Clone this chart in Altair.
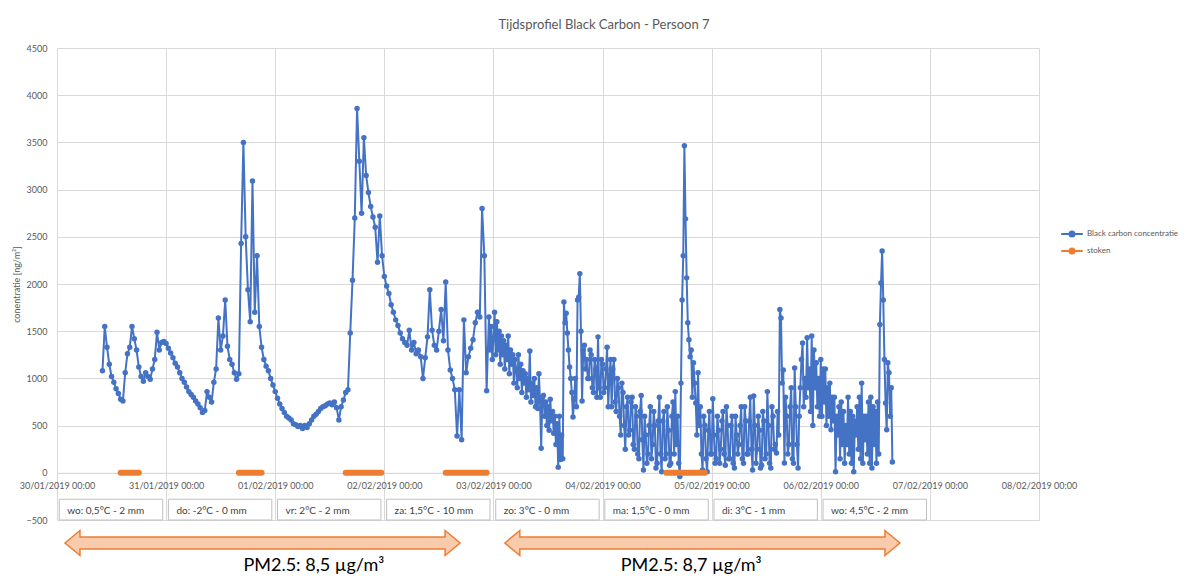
import altair as alt
import pandas as pd

# ---------------- data ----------------
TITLE = "Tijdsprofiel Black Carbon - Persoon 7"
Y_TITLE = "conentratie [ng/m³]"
SERIES = ["Black carbon concentratie", "stoken"]
COLORS = ["#4472C4", "#ED7D31"]

# black carbon, part A: every 30 minutes from 30/01/2019 10:00
bc_a_start = "2019-01-30 10:00"
bc_a_values = [
    1080, 1550, 1330, 1150, 1020, 960, 890, 840, 780, 760, 1060, 1260,
    1330, 1550, 1420, 1300, 1120, 1020, 970, 1060, 1020, 990, 1100, 1200,
    1490, 1300, 1380, 1390, 1370, 1320, 1270, 1220, 1160, 1120, 1060, 1000,
    960, 910, 860, 830, 800, 760, 730, 690, 640, 660, 860, 800,
    750, 960, 1100, 1640, 1300, 1450, 1830, 1340, 1200, 1150, 1060, 990,
    1050, 2430, 3500, 2500, 1940, 1600, 3090, 1700, 2300, 1550, 1330, 1200,
    1130, 1080, 1000, 930, 860, 790, 730, 680, 640, 600, 580, 560,
    520, 510, 490, 500, 470, 500, 480, 520, 560, 600, 620, 650,
    680, 700, 710, 730, 740, 720, 750, 690, 560, 700, 770, 850,
    880, 1480, 2040, 2700, 3860, 3300, 2750, 3550, 3150, 2970, 2820, 2710,
    2600, 2230, 2720, 2300, 2080, 1980, 1900, 1780, 1700, 1620, 1560, 1480,
    1420, 1380, 1350, 1510, 1300, 1380, 1260, 1300, 1230, 1000, 1220, 1440,
    1940, 1510, 1350, 1300, 1500, 1730, 1400, 2020, 1300, 1090, 1000, 880,
    390, 880, 350, 1620, 1060, 1230, 1320, 1410, 1590, 1700, 1650, 2800,
    2300, 870,
]
# black carbon, part B: every 15 minutes from 02/02/2019 23:00
bc_b_start = "2019-02-02 23:00"
bc_b_values = [
    1650, 1300, 1550, 1200, 1420, 1700, 1250, 1600,
    1300, 1500, 1150, 1450, 1250, 1400, 1100, 1350,
    1200, 1450, 1050, 1300, 1150, 1250, 950, 1200,
    1100, 900, 1250, 1000, 1150, 850, 1080, 950,
    1050, 800, 1000, 880, 1290, 750, 950, 820,
    1000, 700, 900, 680, 1050, 750, 260, 800,
    820, 600, 750, 500, 700, 450, 780, 550,
    650, 420, 600, 300, 520, 60, 600, 140,
    400, 150, 1810, 1590, 1690, 1480, 1300, 1120,
    1000, 850, 590, 780, 1000, 700, 1830, 1860,
    2110, 1500, 760, 1300, 1350, 1100, 1200, 1000,
    1000, 1300, 1250, 900, 850, 1200, 1100, 800,
    1440, 900, 800, 1200, 1150, 850, 900, 1100,
    1330, 700, 1000, 1200, 700, 1100, 1200, 750,
    650, 1000, 900, 600, 400, 950, 850, 500,
    250, 700, 800, 400, 450, 750, 800, 300,
    250, 700, 600, 200, 150, 650, 820, 350,
    30, 600, 400, 100, 200, 500, 700, 150,
    300, 650, 500, 50, 100, 550, 800, 200,
    10, 550, 650, 150, 200, 700, 450, 80,
    100, 600, 750, 200, 860, 300, 600, 100,
    -40, 950, 1830, 2300, 3465, 2690, 2065, 1590,
    1410, 1230, 1300, 800, 1165, 950, 740, 400,
    1060, 500, 700, 200, 30, 600, 500, 150,
    10, 450, 650, 200, 200, 785, 400, 100,
    150, 600, 450, 100, 250, 550, 650, 200,
    80, 700, 500, 150, 150, 500, 600, 100,
    50, 600, 400, 200, 300, 500, 700, 150,
    100, 700, 550, 200, 200, 550, 800, 250,
    30, 815, 500, 100, 250, 600, 450, 50,
    80, 650, 550, 150, 200, 860, 500, 100,
    50, 700, 600, 250, 300, 210, 650, 400,
    1730, 1640, 950, 1090, 105, 800, 600, 200,
    300, 700, 900, 150, 100, 1110, 700, 300,
    50, 600, 900, 1200, 1375, 700, 1000, 800,
    1430, 900, 1100, 650, 1450, 500, 1300, 900,
    1165, 700, 1000, 600, 1200, 600, 1100, 750,
    1100, 500, 900, 600, 950, 455, 800, 550,
    800, 10, 600, 400, 700, 150, 750, 300,
    650, 100, 500, 300, 800, 200, 650, 100,
    600, 10, 550, 400, 700, 250, 800, 150,
    950, 100, 600, 350, 600, 200, 750, 100,
    800, 50, 700, 300, 650, 100, 750, 200,
    1570, 2010, 2350, 1830, 1200, 740, 455, 1165,
    1060, 600, 900, 115,
]

# heating ("stoken") periods
stoken_start = ["2019-01-30 14:00", "2019-01-31 16:00", "2019-02-01 15:30",
                "2019-02-02 13:30", "2019-02-04 14:00"]
stoken_end = ["2019-01-30 18:00", "2019-01-31 21:00", "2019-02-01 23:20",
              "2019-02-02 22:30", "2019-02-04 22:30"]

# axis days
axis_days = ["2019-01-30", "2019-01-31", "2019-02-01", "2019-02-02", "2019-02-03",
             "2019-02-04", "2019-02-05", "2019-02-06", "2019-02-07", "2019-02-08"]

# weather per day
weather_days = ["2019-01-30", "2019-01-31", "2019-02-01", "2019-02-02",
                "2019-02-03", "2019-02-04", "2019-02-05", "2019-02-06"]
weather_labels = ["wo: 0,5°C - 2 mm", "do: -2°C - 0 mm", "vr: 2°C - 2 mm",
                  "za: 1,5°C - 10 mm", "zo: 3°C - 0 mm", "ma: 1,5°C - 0 mm",
                  "di: 3°C - 1 mm", "wo: 4,5°C - 2 mm"]

# PM2.5 periods
pm_start = ["2019-01-30 01:45", "2019-02-03 02:30"]
pm_end = ["2019-02-02 16:40", "2019-02-06 17:25"]
pm_text_at = ["2019-02-01 08:30", "2019-02-04 19:30"]
pm_labels = ["PM2.5: 8,5 µg/m³", "PM2.5: 8,7 µg/m³"]

# ---------------- layout ----------------
W, H = 982, 472
PAD = {"left": 49, "top": 40, "right": 155, "bottom": 55}
FONT = "Lato"
GREY = "#595959"
GRID = "#d9d9d9"
Y_MIN, Y_MAX = -500, 4500
X0, X1 = pd.Timestamp(axis_days[0]), pd.Timestamp(axis_days[-1])
PX_PER_HOUR = W / ((X1 - X0).total_seconds() / 3600)


def dt(s):
    ts = pd.Timestamp(s)
    return alt.DateTime(year=ts.year, month=ts.month, date=ts.day,
                        hours=ts.hour, minutes=ts.minute)


bc_df = pd.concat([
    pd.DataFrame({"time": pd.date_range(bc_a_start, periods=len(bc_a_values), freq="30min"),
                  "value": bc_a_values}),
    pd.DataFrame({"time": pd.date_range(bc_b_start, periods=len(bc_b_values), freq="15min"),
                  "value": bc_b_values}),
], ignore_index=True)
bc_df["series"] = SERIES[0]

st_df = pd.DataFrame({
    "start": pd.to_datetime(stoken_start),
    "end": pd.to_datetime(stoken_end),
    "series": SERIES[1],
})
wd = pd.to_datetime(weather_days)
wx_df = pd.DataFrame({
    "start": wd + pd.Timedelta(minutes=30),
    "end": wd + pd.Timedelta(hours=23, minutes=15),
    "label": weather_labels,
})
ps, pe = pd.to_datetime(pm_start), pd.to_datetime(pm_end)
arrow_df = pd.DataFrame({
    "mid": ps + (pe - ps) / 2,
    "size": [((b - a).total_seconds() / 3600 * PX_PER_HOUR) ** 2 for a, b in zip(ps, pe)],
})
pm_df = pd.DataFrame({"at": pd.to_datetime(pm_text_at), "label": pm_labels})

x_scale = alt.Scale(domain=[dt(X0), dt(X1)])
y_scale = alt.Scale(domain=[Y_MIN, Y_MAX])
color_scale = alt.Scale(domain=SERIES, range=COLORS)

x_axis = alt.Axis(
    values=[dt(d) for d in axis_days], format="%d/%m/%Y %H:%M", title=None,
    grid=True, gridColor=GRID, ticks=False, domainColor=GRID,
    labelFontSize=9, labelColor=GREY, labelFont=FONT, labelPadding=9,
    labelFlush=False, labelOverlap=False, labelBound=False,
    offset=-H * (0 - Y_MIN) / (Y_MAX - Y_MIN),
)
y_axis = alt.Axis(
    values=list(range(Y_MIN, Y_MAX + 1, 500)), format="d", title=Y_TITLE,
    grid=True, gridColor=GRID, ticks=False, domain=False,
    labelFontSize=9, labelColor=GREY, labelFont=FONT, labelPadding=10,
    titleFontSize=9, titleColor=GREY, titleFont=FONT, titleFontWeight="normal",
    titlePadding=5,
)

LEG_PATH = "M-1.2,0H1.2M0.28,0A0.28,0.28,0,1,1,-0.28,0A0.28,0.28,0,1,1,0.28,0"
legend = alt.Legend(
    title=None, orient="none", legendX=1005, legendY=176,
    symbolType=LEG_PATH, symbolSize=324, symbolStrokeWidth=2,
    labelFontSize=8, labelColor=GREY, labelFont=FONT, labelOffset=5,
    rowPadding=0, padding=0,
)

# weather boxes
boxes = alt.Chart(wx_df).mark_rect(fill="white", stroke="#bfbfbf", strokeWidth=1).encode(
    x=alt.X("start:T", scale=x_scale, axis=x_axis), x2="end:T",
    y=alt.datum(-280, scale=y_scale), y2=alt.datum(Y_MIN),
)
box_text = alt.Chart(wx_df).mark_text(
    align="left", baseline="middle", dx=8, fontSize=10, font=FONT, color="#404040"
).encode(x="start:T", y=alt.datum(-400), text="label:N")

bc = alt.Chart(bc_df).mark_line(
    strokeWidth=2, point=alt.OverlayMarkDef(filled=True, size=30)
).encode(
    x=alt.X("time:T", scale=x_scale, axis=x_axis),
    y=alt.Y("value:Q", scale=y_scale, axis=y_axis),
    color=alt.Color("series:N", scale=color_scale, legend=legend),
)

stoken = alt.Chart(st_df).mark_rule(strokeWidth=6, strokeCap="round").encode(
    x="start:T", x2="end:T", y=alt.datum(0),
    color=alt.Color("series:N", scale=color_scale, legend=legend),
)

ARROW = ("M-1,0L-0.924,-0.0633L-0.924,-0.0304L0.924,-0.0304L0.924,-0.0633L1,0"
         "L0.924,0.0633L0.924,0.0304L-0.924,0.0304L-0.924,0.0633Z")
arrows = alt.Chart(arrow_df).mark_point(
    shape=ARROW, filled=True, fill="#F8CBAD", stroke="#ED7D31", strokeWidth=1.5, opacity=1
).encode(x="mid:T", y=alt.value(H + 23), size=alt.Size("size:Q", scale=None, legend=None))

pm_text = alt.Chart(pm_df).mark_text(
    fontSize=18, font=FONT, color="black", baseline="alphabetic"
).encode(x="at:T", y=alt.value(H + 51), text="label:N")

chart = alt.layer(
    boxes, box_text, bc, stoken, arrows, pm_text
).properties(
    width=W, height=H,
    title=alt.TitleParams(TITLE, fontSize=13, color=GREY, font=FONT,
                          fontWeight="normal", anchor="middle", dx=56, offset=12),
    autosize=alt.AutoSizeParams(type="none"),
    padding=PAD,
).configure_view(strokeWidth=0)

chart.save("out.html", embed_options={"renderer": "svg", "actions": False})
